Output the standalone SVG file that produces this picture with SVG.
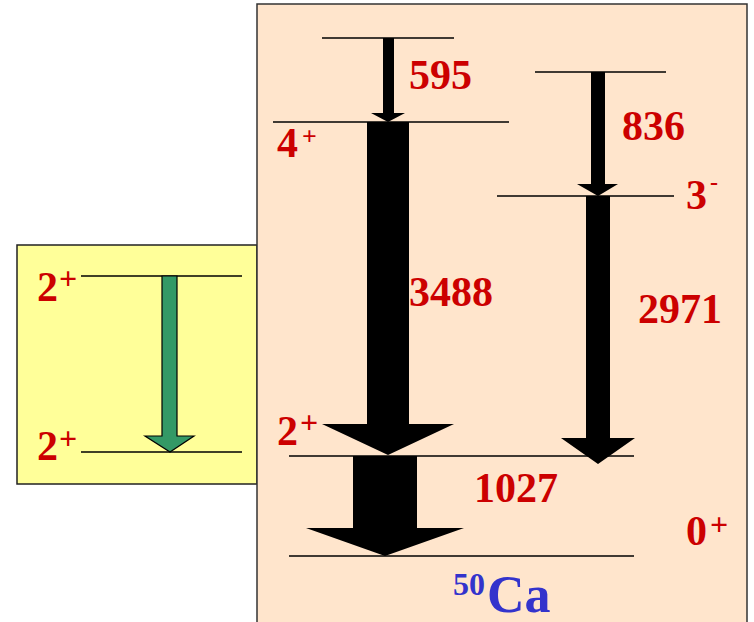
<svg xmlns="http://www.w3.org/2000/svg" width="754" height="622" viewBox="0 0 754 622">
<style>
.lvl{stroke:#000;stroke-width:1.5;fill:none}
.r{font-family:"Liberation Serif","Times New Roman",serif;font-weight:bold;fill:#CC0000}
.n{font-size:42px}
.s{font-size:32px}
.b{font-family:"Liberation Serif","Times New Roman",serif;font-weight:bold;fill:#3333CC}
.blk{fill:#000}
</style>
<rect width="754" height="622" fill="#fff"/>
<g id="yellow-box">
<rect x="17" y="245" width="240" height="239" fill="#FFFF99" stroke="#222" stroke-width="1.5"/>
<line class="lvl" x1="81" y1="276" x2="242" y2="276"/>
<line class="lvl" x1="81" y1="452" x2="242" y2="452"/>
<text class="r n" x="37" y="301">2</text><text class="r s" x="59" y="289">+</text>
<text class="r n" x="37" y="460">2</text><text class="r s" x="59" y="449">+</text>
<path d="M162,276 H177 V436 H194 L170,452 L145,436 H162 Z" fill="#339966" stroke="#000" stroke-width="1.2"/>
</g>
<g id="ca50-box">
<rect x="257" y="4" width="490" height="640" fill="#FFE5CC" stroke="#333" stroke-width="1.5"/>
<text class="b" x="453" y="595" font-size="32">50</text>
<text class="b" x="487" y="612" font-size="52">Ca</text>
</g>
<g id="levels">
<line class="lvl" x1="322" y1="38" x2="454" y2="38"/>
<line class="lvl" x1="273" y1="122" x2="509" y2="122"/>
<line class="lvl" x1="535" y1="72" x2="666" y2="72"/>
<line class="lvl" x1="497" y1="196" x2="674" y2="196"/>
<line class="lvl" x1="289" y1="456" x2="634" y2="456"/>
<line class="lvl" x1="289" y1="556" x2="634" y2="556"/>
</g>
<g id="labels">
<text class="r n" x="277" y="157">4</text><text class="r" font-size="26" x="302" y="145">+</text>
<text class="r n" x="277" y="445">2</text><text class="r s" x="300" y="433">+</text>
<text class="r n" x="686" y="209">3</text><text class="r" font-size="24" x="710" y="190">-</text>
<text class="r n" x="686" y="545">0</text><text class="r s" x="710" y="535">+</text>
<text class="r n" x="409" y="89">595</text>
<text class="r n" x="622" y="140">836</text>
<text class="r n" x="409" y="306">3488</text>
<text class="r n" x="638" y="323">2971</text>
<text class="r n" x="474" y="502">1027</text>
</g>
<g id="connectors">
<path class="blk" d="M383,38 H394 V113 H405 L388,122 L371,113 H383 Z"/>
<path class="blk" d="M591,72 H605 V184 H618 L598,196 L577,184 H591 Z"/>
<path class="blk" d="M367,122 H409 V424 H454 L388,455 L322,424 H367 Z"/>
<path class="blk" d="M586,196 H610 V438 H635 L598,464 L561,438 H586 Z"/>
<path class="blk" d="M353,456 H417 V528 H464 L385,556 L306,528 H353 Z"/>
</g>
</svg>
